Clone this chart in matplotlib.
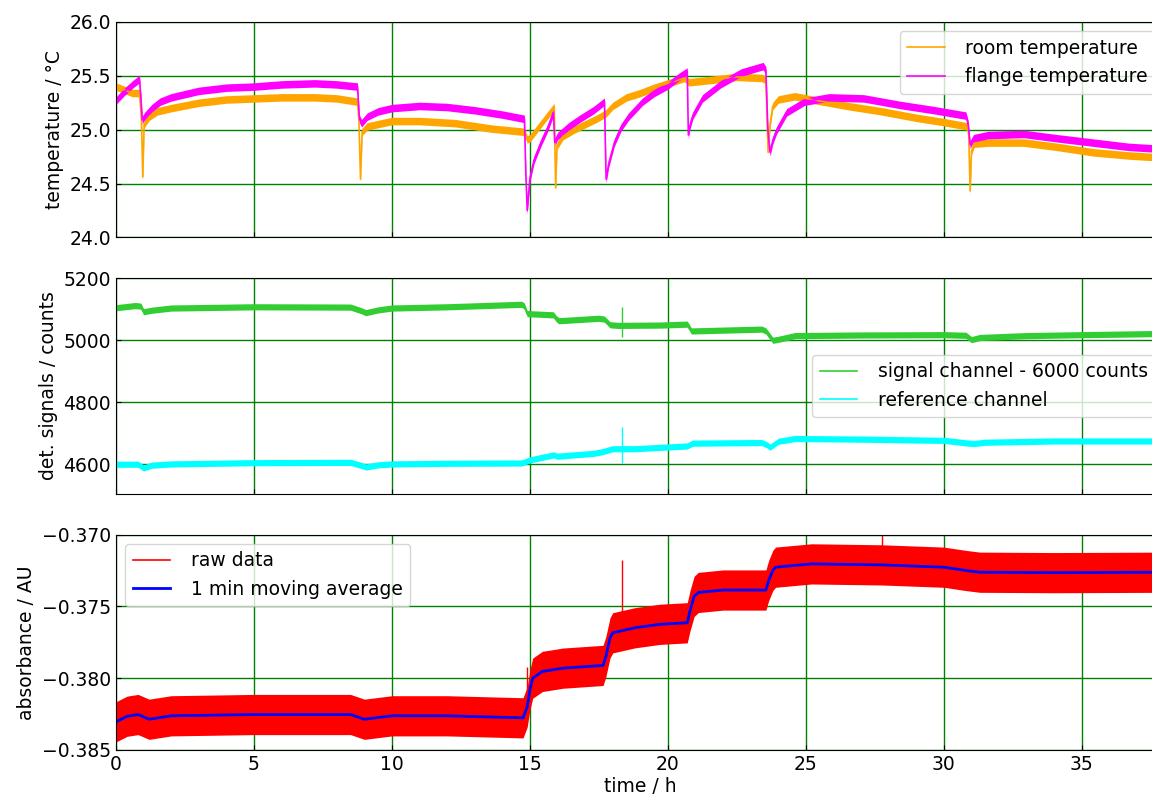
import numpy as np
import matplotlib
matplotlib.use('Agg')
import matplotlib.pyplot as plt

plt.rcParams['font.size'] = 13.5

# room / flange temperature (deg C)
t_room = [0.0, 0.3, 0.6, 0.85, 0.92, 0.97, 1.02, 1.2, 1.5, 2.0, 3.0, 4.0, 5.0, 6.0, 7.2, 8.0,
          8.75, 8.80, 8.86, 8.92, 9.1, 10.0, 11.0, 12.3, 13.6, 14.8, 14.9, 15.0, 15.3, 15.6,
          15.88, 15.93, 15.98, 16.2, 16.6, 17.0, 17.4, 17.75, 18.0, 18.5, 19.0, 19.5, 20.0,
          20.6, 20.75, 21.5, 22.5, 23.4, 23.55, 23.63, 23.7, 23.8, 24.0, 24.6, 25.2, 26.5,
          27.75, 29.0, 30.0, 30.85, 30.9, 30.95, 31.0, 31.1, 31.6, 32.9, 34.1, 35.4, 36.7, 38.0]
T_room = [25.40, 25.37, 25.34, 25.34, 25.10, 24.56, 25.05, 25.12, 25.17, 25.20, 25.25, 25.28,
          25.29, 25.30, 25.30, 25.29, 25.26, 25.10, 24.54, 24.98, 25.03, 25.08, 25.08, 25.06,
          25.01, 24.98, 24.91, 24.92, 25.02, 25.12, 25.21, 24.46, 24.85, 24.94, 25.00, 25.05,
          25.10, 25.15, 25.22, 25.30, 25.34, 25.39, 25.43, 25.48, 25.44, 25.46, 25.49, 25.48,
          25.46, 24.79, 25.05, 25.22, 25.28, 25.31, 25.28, 25.22, 25.17, 25.11, 25.07, 25.03,
          24.95, 24.43, 24.80, 24.87, 24.88, 24.88, 24.84, 24.79, 24.76, 24.74]

t_flange = [0.0, 0.3, 0.6, 0.85, 0.9, 0.95, 1.05, 1.3, 1.6, 2.0, 3.0, 4.0, 5.0, 6.0, 7.2, 8.0,
            8.75, 8.82, 8.9, 9.1, 9.5, 10.0, 11.0, 12.0, 13.0, 14.0, 14.8, 14.85, 14.9, 15.0,
            15.15, 15.4, 15.65, 15.85, 15.9, 16.0, 16.4, 16.8, 17.3, 17.7, 17.76, 17.85, 18.06,
            18.3, 18.57, 19.08, 19.5, 20.0, 20.4, 20.7, 20.74, 20.8, 20.9, 21.25, 21.9, 22.65,
            23.45, 23.55, 23.62, 23.7, 23.8, 23.93, 24.3, 24.95, 25.84, 27.1, 28.4, 29.67,
            30.8, 30.88, 30.95, 31.07, 31.6, 32.9, 34.1, 35.4, 36.7, 38.0]
T_flange = [25.27, 25.35, 25.42, 25.47, 25.30, 25.09, 25.13, 25.20, 25.26, 25.30, 25.36, 25.39,
            25.40, 25.42, 25.43, 25.42, 25.40, 25.10, 25.06, 25.12, 25.17, 25.20, 25.22, 25.21,
            25.18, 25.14, 25.10, 24.60, 24.25, 24.55, 24.72, 24.88, 25.02, 25.16, 24.88, 24.94,
            25.03, 25.10, 25.18, 25.26, 24.54, 24.68, 24.88, 25.02, 25.12, 25.26, 25.34, 25.41,
            25.49, 25.54, 24.95, 25.04, 25.13, 25.29, 25.42, 25.53, 25.59, 25.55, 25.00, 24.79,
            24.90, 24.99, 25.16, 25.26, 25.30, 25.29, 25.23, 25.18, 25.13, 25.05, 24.86, 24.92,
            24.95, 24.96, 24.92, 24.88, 24.84, 24.82]

# detector signals (counts)
t_sig = [0.0, 0.7, 0.9, 1.0, 1.3, 2.0, 5.0, 8.5, 8.9, 9.05, 9.5, 10.0, 12.0, 14.7, 14.8, 14.9,
         15.85, 15.95, 16.05, 17.5, 17.7, 17.9, 18.2, 19.7, 20.7, 20.85, 23.4, 23.55, 23.8,
         24.0, 24.6, 27.0, 30.0, 30.8, 31.0, 31.3, 33.0, 35.0, 38.0]
sig = [5105, 5112, 5110, 5092, 5097, 5104, 5108, 5107, 5095, 5089, 5098, 5104, 5108, 5116,
       5110, 5086, 5082, 5070, 5063, 5071, 5068, 5050, 5048, 5049, 5052, 5030, 5036, 5030,
       5000, 5003, 5015, 5017, 5018, 5016, 5002, 5009, 5015, 5018, 5022]

t_ref = [0.0, 0.8, 1.0, 1.3, 2.0, 5.0, 8.5, 8.9, 9.05, 9.5, 10.0, 12.0, 14.7, 15.0, 15.85,
         16.0, 17.3, 17.6, 18.0, 18.8, 20.7, 20.9, 23.4, 23.6, 23.7, 24.0, 24.6, 27.0, 30.0,
         30.9, 31.1, 31.5, 34.0, 38.0]
ref = [4600, 4600, 4588, 4597, 4601, 4605, 4606, 4596, 4591, 4598, 4601, 4603, 4604, 4614,
       4630, 4626, 4635, 4640, 4650, 4650, 4659, 4668, 4670, 4662, 4655, 4674, 4683, 4681,
       4677, 4668, 4667, 4671, 4675, 4675]

# absorbance, 1 min moving average (AU)
t_abs = [0.0, 0.4, 0.8, 1.2, 2.0, 5.0, 8.5, 9.0, 10.0, 12.0, 14.75, 14.9, 15.0, 15.1, 15.45,
         16.2, 17.65, 17.75, 17.9, 18.0, 18.8, 19.7, 20.7, 20.8, 20.95, 21.1, 22.0, 23.55,
         23.65, 23.8, 23.9, 25.2, 27.75, 30.0, 30.8, 31.3, 34.0, 38.0]
absorb = [-0.38304, -0.38265, -0.38253, -0.38286, -0.38262, -0.38253, -0.38253, -0.38286,
          -0.38262, -0.38262, -0.38276, -0.38200, -0.38080, -0.38000, -0.37953, -0.37930,
          -0.37911, -0.37850, -0.37720, -0.37684, -0.37649, -0.37625, -0.37614, -0.37530,
          -0.37430, -0.37403, -0.37386, -0.37386, -0.37320, -0.37250, -0.37227, -0.37204,
          -0.37211, -0.37227, -0.37250, -0.37262, -0.37265, -0.37262]

# spikes in the raw absorbance
spike_t = [14.88, 18.33, 27.75]
spike_top = [-0.3792, -0.3718, -0.3700]

# noise half widths
noise_temp = 0.035
noise_cnt = 10
noise_abs = 0.0014


def band(ax, t, y, hw, color, label, lw=1.2):
    t = np.asarray(t)
    y = np.asarray(y)
    ax.fill_between(t, y - hw, y + hw, color=color, lw=0)
    ax.plot(t, y, color=color, lw=lw, label=label)


fig, axs = plt.subplots(3, 1, sharex=True, figsize=(11.52, 7.96), dpi=100)
fig.subplots_adjust(left=0.1007, right=1.011, top=0.9724, bottom=0.0578, hspace=0.19)

ax = axs[0]
band(ax, t_room, T_room, noise_temp, 'orange', 'room temperature')
band(ax, t_flange, T_flange, noise_temp, 'magenta', 'flange temperature')
ax.set_ylim(24.0, 26.0)
ax.set_yticks([24.0, 24.5, 25.0, 25.5, 26.0])
ax.set_ylabel('temperature / °C')
ax.legend(loc='upper right', handletextpad=1.1)

ax = axs[1]
band(ax, t_sig, sig, noise_cnt, 'limegreen', 'signal channel - 6000 counts')
band(ax, t_ref, ref, noise_cnt, 'cyan', 'reference channel')
# spike around 18.3 h
ax.vlines(18.33, 5012, 5108, color='limegreen', lw=1)
ax.vlines(18.33, 4603, 4719, color='cyan', lw=1)
ax.set_ylim(4505, 5200)
ax.set_yticks([4600, 4800, 5000, 5200])
ax.set_ylabel('det. signals / counts')
ax.legend(loc='center right', handletextpad=1.1)

ax = axs[2]
t_a = np.asarray(t_abs)
a = np.asarray(absorb)
ax.fill_between(t_a, a - noise_abs, a + noise_abs, color='red', lw=0)
ax.plot(t_a, a, color='red', lw=1.2, label='raw data')
ax.vlines(spike_t, np.interp(spike_t, t_a, a), spike_top, color='red', lw=1)
ax.plot(t_a, a, color='blue', lw=2, label='1 min moving average')
ax.set_ylim(-0.385, -0.370)
ax.set_yticks([-0.385, -0.380, -0.375, -0.370])
ax.set_ylabel('absorbance / AU')
ax.set_xlabel('time / h', labelpad=2)
ax.legend(loc='upper left', handletextpad=1.1)

ax.set_xlim(0, 38)
ax.set_xticks([0, 5, 10, 15, 20, 25, 30, 35])

for ax in axs:
    ax.set_axisbelow(True)
    ax.grid(True, color='green', lw=1)
    ax.tick_params(direction='in', top=False, right=False)

fig.savefig('out.png', dpi=100)
